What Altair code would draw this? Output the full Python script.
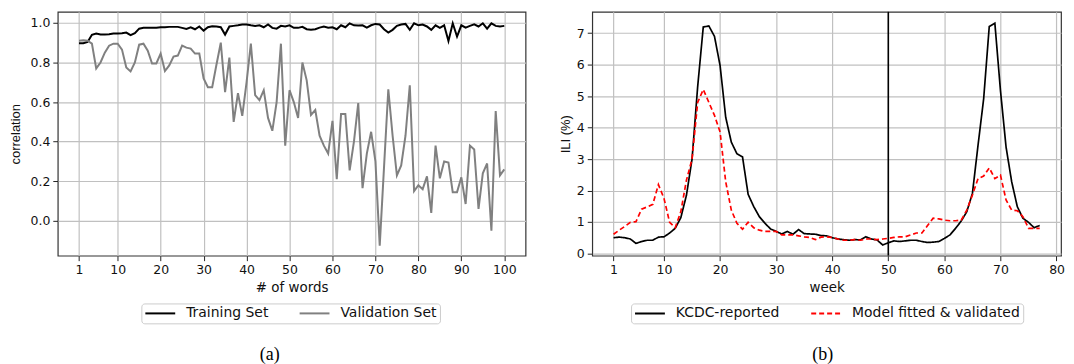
import altair as alt
import pandas as pd

# ---------------- data: panel (a) ----------------
words = list(range(1, 101))
training = [
    0.897, 0.897, 0.904, 0.940, 0.946, 0.941, 0.941, 0.943, 0.946, 0.946,
    0.948, 0.951, 0.938, 0.948, 0.971, 0.975, 0.975, 0.975, 0.976, 0.978,
    0.978, 0.980, 0.980, 0.980, 0.975, 0.970, 0.978, 0.968, 0.982, 0.961,
    0.978, 0.983, 0.982, 0.978, 0.941, 0.982, 0.985, 0.988, 0.992, 0.992,
    0.988, 0.985, 0.988, 0.978, 0.992, 0.975, 0.971, 0.985, 0.982, 0.988,
    0.975, 0.975, 0.980, 0.968, 0.965, 0.968, 0.976, 0.982, 0.976, 0.978,
    0.968, 0.988, 0.978, 0.998, 0.988, 0.987, 0.988, 0.976, 0.988, 0.995,
    0.992, 0.968, 0.951, 0.965, 0.985, 0.992, 0.995, 0.965, 0.998, 0.988,
    0.992, 0.982, 0.965, 0.988, 0.975, 0.988, 0.909, 0.998, 0.931, 0.988,
    0.976, 0.985, 0.993, 0.982, 0.998, 0.971, 0.998, 0.985, 0.982, 0.985,
]
validation = [
    0.910, 0.912, 0.910, 0.895, 0.770, 0.800, 0.850, 0.885, 0.895, 0.895,
    0.865, 0.775, 0.755, 0.800, 0.890, 0.895, 0.860, 0.795, 0.795, 0.845,
    0.757, 0.785, 0.830, 0.835, 0.885, 0.875, 0.870, 0.845, 0.845, 0.720,
    0.675, 0.675, 0.790, 0.900, 0.650, 0.825, 0.500, 0.645, 0.530, 0.700,
    0.895, 0.635, 0.610, 0.660, 0.520, 0.455, 0.600, 0.895, 0.380, 0.660,
    0.600, 0.520, 0.800, 0.710, 0.535, 0.560, 0.430, 0.380, 0.340, 0.505,
    0.210, 0.540, 0.540, 0.255, 0.400, 0.595, 0.165, 0.340, 0.450, 0.300,
    -0.125, 0.270, 0.665, 0.430, 0.230, 0.280, 0.430, 0.685, 0.150, 0.180,
    0.160, 0.225, 0.040, 0.380, 0.215, 0.300, 0.295, 0.145, 0.145, 0.220,
    0.085, 0.380, 0.360, 0.060, 0.240, 0.290, -0.050, 0.555, 0.230, 0.260,
]
sets = ["Training Set", "Validation Set"]
x_ticks_a = [1, 10, 20, 30, 40, 50, 60, 70, 80, 90, 100]
y_ticks_a = [0.0, 0.2, 0.4, 0.6, 0.8, 1.0]

# ---------------- data: panel (b) ----------------
weeks = list(range(1, 78))
kcdc = [
    0.50, 0.52, 0.50, 0.46, 0.32, 0.38, 0.42, 0.42, 0.52, 0.53,
    0.65, 0.80, 1.14, 1.85, 3.00, 5.30, 7.20, 7.23, 6.90, 5.97,
    4.33, 3.54, 3.17, 3.07, 1.88, 1.49, 1.17, 0.96, 0.78, 0.70,
    0.62, 0.70, 0.61, 0.76, 0.63, 0.62, 0.61, 0.57, 0.56, 0.50,
    0.46, 0.44, 0.42, 0.44, 0.43, 0.53, 0.46, 0.43, 0.27, 0.34,
    0.40, 0.38, 0.40, 0.42, 0.42, 0.38, 0.35, 0.36, 0.38, 0.48,
    0.59, 0.80, 1.03, 1.33, 1.91, 3.44, 4.91, 7.21, 7.32, 5.18,
    3.38, 2.28, 1.49, 1.12, 0.99, 0.82, 0.89,
]
model = [
    0.61, 0.74, 0.86, 0.99, 1.01, 1.41, 1.48, 1.56, 2.19, 1.75,
    0.99, 0.82, 1.33, 2.33, 3.00, 4.80, 5.21, 4.80, 4.39, 3.86,
    2.28, 1.38, 0.96, 0.77, 0.99, 0.82, 0.74, 0.70, 0.70, 0.70,
    0.59, 0.59, 0.59, 0.56, 0.53, 0.51, 0.44, 0.52, 0.53, 0.51,
    0.46, 0.42, 0.42, 0.44, 0.42, 0.46, 0.46, 0.44, 0.46, 0.48,
    0.51, 0.53, 0.53, 0.59, 0.65, 0.65, 0.89, 1.12, 1.10, 1.06,
    1.04, 1.04, 1.06, 1.38, 1.86, 2.38, 2.46, 2.72, 2.38, 2.49,
    1.70, 1.38, 1.36, 1.17, 0.80, 0.80, 0.80,
]
series_b = ["KCDC-reported", "Model fitted & validated"]
split_week = [50]
x_ticks_b = [1, 10, 20, 30, 40, 50, 60, 70, 80]
y_ticks_b = [0, 1, 2, 3, 4, 5, 6, 7]

FONT = "DejaVu Sans"
TITLE_FONT = "Liberation Sans"

df_a = pd.DataFrame({
    "words": words * 2,
    "corr": training + validation,
    "set": [sets[0]] * len(training) + [sets[1]] * len(validation),
})
df_b = pd.DataFrame({
    "week": weeks * 2,
    "ili": kcdc + model,
    "series": [series_b[0]] * len(kcdc) + [series_b[1]] * len(model),
})
df_split = pd.DataFrame({"week": split_week})


def legend(x):
    return alt.Legend(
        title=None, orient="none", legendX=x, legendY=293, direction="horizontal",
        symbolType="M-1,0L4,0", symbolSize=144, symbolStrokeWidth=2,
        labelFont=FONT, labelFontSize=14, labelColor="#111", labelOffset=28,
        labelLimit=400, columnPadding=27, padding=3, strokeColor="#cccccc",
        fillColor="white", cornerRadius=3,
    )


def caption(text, dx):
    return alt.TitleParams(text, orient="bottom", font="Liberation Serif",
                           fontSize=18, fontWeight="normal", color="#000",
                           offset=22, dx=dx)


left = alt.Chart(df_a).mark_line(strokeWidth=2).encode(
    x=alt.X("words:Q",
            scale=alt.Scale(domain=[-3.95, 104.95], nice=False, zero=False),
            axis=alt.Axis(values=x_ticks_a, title="# of words")),
    y=alt.Y("corr:Q",
            scale=alt.Scale(domain=[-0.176, 1.056], nice=False, zero=False),
            axis=alt.Axis(values=y_ticks_a, format=".1f", title="correlation",
                          titleFont=TITLE_FONT, titleFontSize=13, titlePadding=8)),
    color=alt.Color("set:N", scale=alt.Scale(domain=sets, range=["#000000", "#808080"]),
                    legend=legend(84)),
).properties(width=470, height=245, title=caption("(a)", -22))

lines_b = alt.Chart(df_b).mark_line(strokeWidth=1.7).encode(
    x=alt.X("week:Q",
            scale=alt.Scale(domain=[-2.8, 80.8], nice=False, zero=False),
            axis=alt.Axis(values=x_ticks_b, title="week")),
    y=alt.Y("ili:Q",
            scale=alt.Scale(domain=[-0.07, 7.68], nice=False, zero=False),
            axis=alt.Axis(values=y_ticks_b, format="d", title="ILI (%)",
                          titleFont=TITLE_FONT, titleFontSize=13, titlePadding=4)),
    color=alt.Color("series:N", scale=alt.Scale(domain=series_b, range=["#000000", "#ff0000"]),
                    legend=legend(39)),
    strokeDash=alt.StrokeDash("series:N",
                              scale=alt.Scale(domain=series_b, range=[[1, 0], [5, 3]]),
                              legend=legend(39)),
)
vline = alt.Chart(df_split).mark_rule(color="#000", strokeWidth=1.6).encode(x="week:Q")

right = alt.layer(lines_b, vline).properties(
    width=471, height=245, title=caption("(b)", -4)
)

chart = alt.hconcat(left, right, spacing=32).resolve_scale(
    color="independent", strokeDash="independent"
).configure_view(
    stroke="#333333", strokeWidth=1.2
).configure_axis(
    grid=True, gridColor="#c0c0c0", gridWidth=1.2, domain=False,
    tickColor="#222", tickSize=5, tickWidth=1,
    labelFont=FONT, labelFontSize=12.5, labelColor="#111", labelPadding=3,
    titleFont=FONT, titleFontSize=13.5, titleFontWeight="normal", titleColor="#111",
).properties(
    padding={"left": 0, "top": 1, "right": 0, "bottom": 0}
)

chart.save("out.html", embed_options={"renderer": "svg", "actions": False})
